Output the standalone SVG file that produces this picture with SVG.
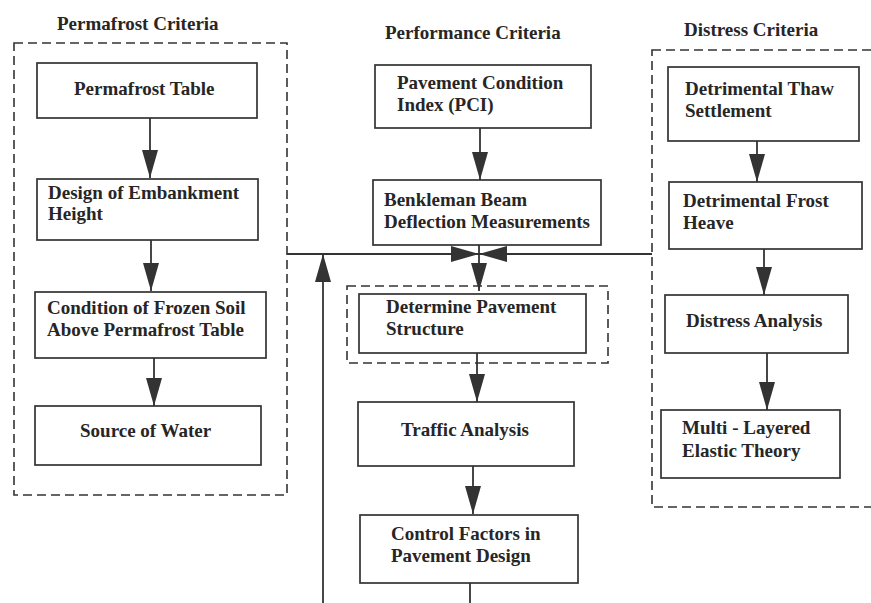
<svg xmlns="http://www.w3.org/2000/svg" width="871" height="603" viewBox="0 0 871 603">
  <style>
    text { font-family: "Liberation Serif", "Times New Roman", serif; font-weight: bold; fill: #262626; }
    .title { font-size: 19px; }
    .label { font-size: 19px; }
    .box { fill: #ffffff; stroke: #333333; stroke-width: 1.7; }
    .group { fill: none; stroke: #333333; stroke-width: 1.6; stroke-dasharray: 9 5; }
    .link { fill: none; stroke: #333333; stroke-width: 1.8; }
  </style>
  <defs>
    <marker id="arrow" markerUnits="userSpaceOnUse" viewBox="0 0 28 16" refX="28" refY="8" markerWidth="28" markerHeight="16" orient="auto">
      <path d="M0,0 L28,8 L0,16 Z" fill="#333333"/>
    </marker>
  </defs>
  <rect width="871" height="603" fill="#ffffff"/>

  <!-- criteria groups -->
  <g id="permafrost-criteria">
    <rect class="group" x="14" y="43" width="273" height="452"/>
    <text class="title" x="57" y="30">Permafrost Criteria</text>
  </g>
  <g id="performance-criteria">
    <text class="title" x="385" y="39">Performance Criteria</text>
  </g>
  <g id="distress-criteria">
    <rect class="group" x="652" y="50" width="260" height="457"/>
    <text class="title" x="684" y="36">Distress Criteria</text>
  </g>

  <!-- connectors -->
  <g id="connectors">
    <line class="link" x1="150" y1="118" x2="150" y2="178" marker-end="url(#arrow)"/>
    <line class="link" x1="151" y1="240" x2="151" y2="291" marker-end="url(#arrow)"/>
    <line class="link" x1="154" y1="358" x2="154" y2="406" marker-end="url(#arrow)"/>
    <line class="link" x1="480" y1="128" x2="480" y2="180" marker-end="url(#arrow)"/>
    <line class="link" x1="287" y1="254" x2="479" y2="254" marker-end="url(#arrow)"/>
    <line class="link" x1="652" y1="254" x2="479" y2="254" marker-end="url(#arrow)"/>
    <line class="link" x1="479" y1="245" x2="479" y2="291" marker-end="url(#arrow)"/>
    <line class="link" x1="323" y1="603" x2="323" y2="254" marker-end="url(#arrow)"/>
    <line class="link" x1="477" y1="353" x2="477" y2="402" marker-end="url(#arrow)"/>
    <line class="link" x1="473" y1="466" x2="473" y2="514" marker-end="url(#arrow)"/>
    <line class="link" x1="470" y1="583" x2="470" y2="603"/>
    <line class="link" x1="757" y1="141" x2="757" y2="182" marker-end="url(#arrow)"/>
    <line class="link" x1="764" y1="249" x2="764" y2="295" marker-end="url(#arrow)"/>
    <line class="link" x1="767" y1="353" x2="767" y2="410" marker-end="url(#arrow)"/>
  </g>

  <!-- permafrost column -->
  <g id="permafrost-table">
    <rect class="box" x="37" y="63" width="220" height="55"/>
    <text class="label" x="74" y="95">Permafrost Table</text>
  </g>
  <g id="embankment-height">
    <rect class="box" x="37" y="179" width="221" height="61"/>
    <text class="label" x="48" y="199">Design of Embankment</text>
    <text class="label" x="48" y="220">Height</text>
  </g>
  <g id="frozen-soil">
    <rect class="box" x="35" y="292" width="231" height="66"/>
    <text class="label" x="47" y="314">Condition of Frozen Soil</text>
    <text class="label" x="47" y="336">Above Permafrost Table</text>
  </g>
  <g id="source-of-water">
    <rect class="box" x="35" y="406" width="226" height="59"/>
    <text class="label" x="80" y="437">Source of Water</text>
  </g>

  <!-- performance column -->
  <g id="pci">
    <rect class="box" x="375" y="65" width="216" height="63"/>
    <text class="label" x="397" y="89">Pavement Condition</text>
    <text class="label" x="397" y="111">Index (PCI)</text>
  </g>
  <g id="benkleman">
    <rect class="box" x="373" y="180" width="228" height="65"/>
    <text class="label" x="384" y="206">Benkleman Beam</text>
    <text class="label" x="384" y="228">Deflection Measurements</text>
  </g>
  <g id="pavement-structure">
    <rect class="group" x="347" y="286" width="261" height="77"/>
    <rect class="box" x="359" y="294" width="227" height="59"/>
    <text class="label" x="386" y="313">Determine Pavement</text>
    <text class="label" x="386" y="335">Structure</text>
  </g>
  <g id="traffic-analysis">
    <rect class="box" x="358" y="402" width="216" height="64"/>
    <text class="label" x="401" y="436">Traffic Analysis</text>
  </g>
  <g id="control-factors">
    <rect class="box" x="360" y="515" width="218" height="68"/>
    <text class="label" x="391" y="540">Control Factors in</text>
    <text class="label" x="391" y="562">Pavement Design</text>
  </g>

  <!-- distress column -->
  <g id="thaw-settlement">
    <rect class="box" x="668" y="67" width="191" height="74"/>
    <text class="label" x="685" y="95">Detrimental Thaw</text>
    <text class="label" x="685" y="117">Settlement</text>
  </g>
  <g id="frost-heave">
    <rect class="box" x="669" y="182" width="193" height="67"/>
    <text class="label" x="683" y="207">Detrimental Frost</text>
    <text class="label" x="683" y="229">Heave</text>
  </g>
  <g id="distress-analysis">
    <rect class="box" x="665" y="295" width="183" height="58"/>
    <text class="label" x="686" y="327">Distress Analysis</text>
  </g>
  <g id="elastic-theory">
    <rect class="box" x="661" y="410" width="179" height="68"/>
    <text class="label" x="682" y="434">Multi - Layered</text>
    <text class="label" x="682" y="457">Elastic Theory</text>
  </g>
</svg>
